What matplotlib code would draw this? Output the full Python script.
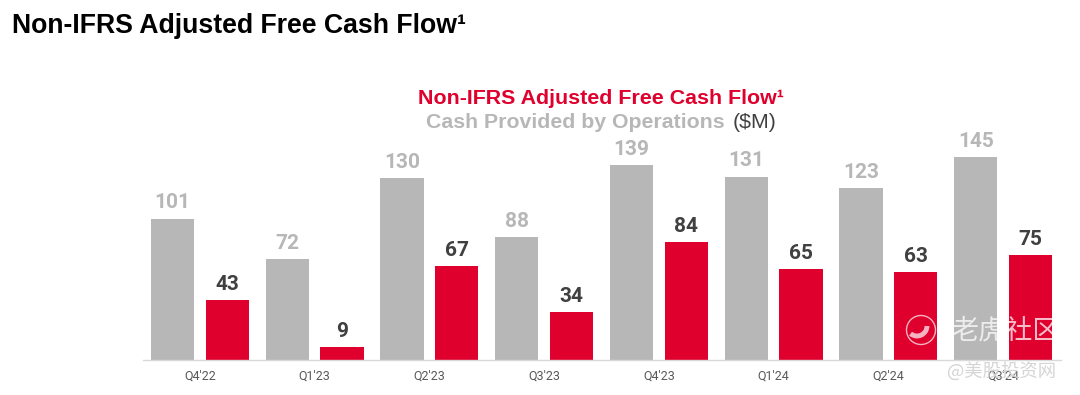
import matplotlib
matplotlib.use('Agg')
import matplotlib.pyplot as plt
from matplotlib.patches import Circle, Arc
import numpy as np

quarters = ["Q4'22", "Q1'23", "Q2'23", "Q3'23", "Q4'23", "Q1'24", "Q2'24", "Q3'24"]
cash_ops = [101, 72, 130, 88, 139, 131, 123, 145]
adj_fcf = [43, 9, 67, 34, 84, 65, 63, 75]

W, H = 1080, 395
GRAY = '#b7b7b7'
RED = '#e0002d'
DARK = '#404040'

fig = plt.figure(figsize=(W / 100, H / 100), dpi=100)
# axes box in pixels: left 142.5, right 1060.5, baseline at y=360
ax = fig.add_axes([142.5 / W, (H - 360) / H, 918 / W, 230 / H])

x = np.arange(len(quarters))
bar_w = 0.377
off = 0.2385
ax.bar(x - off, cash_ops, bar_w, color=GRAY)
ax.bar(x + off, adj_fcf, bar_w, color=RED)

for i in x:
    ax.annotate(str(cash_ops[i]), (i - off, cash_ops[i]), xytext=(0, 4.5), textcoords='offset points',
                ha='center', va='bottom', fontsize=15, fontweight='bold', family='Roboto', color=GRAY)
    ax.annotate(str(adj_fcf[i]), (i + off, adj_fcf[i]), xytext=(0, 4.5), textcoords='offset points',
                ha='center', va='bottom', fontsize=15, fontweight='bold', family='Roboto', color=DARK)

ax.set_xlim(-0.5, len(quarters) - 0.5)
ax.set_ylim(0, 164.3)
ax.set_xticks(x)
ax.set_xticklabels(quarters, fontsize=9, family='Roboto', color='#595959')
ax.tick_params(axis='x', length=0, pad=7.2)
ax.set_yticks([])
for s in ['top', 'left', 'right']:
    ax.spines[s].set_visible(False)
ax.spines['bottom'].set_color('#d9d9d9')
ax.spines['bottom'].set_linewidth(1)
ax.patch.set_alpha(0)


def px_text(px, py, s, **kw):
    return fig.text(px / W, 1 - py / H, s, **kw)


px_text(12, 26, 'Non-IFRS Adjusted Free Cash Flow¹', fontsize=19.2, fontweight='bold',
        family='Liberation Sans', color='black', va='center')
px_text(601, 98, 'Non-IFRS Adjusted Free Cash Flow¹', fontsize=15.4, fontweight='bold',
        family='Liberation Sans', color=RED, va='center', ha='center')
px_text(725, 122, 'Cash Provided by Operations', fontsize=15.3, fontweight='bold',
        family='Liberation Sans', color=GRAY, va='center', ha='right')
px_text(733, 122, '($M)', fontsize=15.4, family='Liberation Sans', color=DARK, va='center', ha='left')

# watermark
cjk = ['Noto Sans CJK SC', 'DejaVu Sans']
px_text(951, 331, '老虎社区', fontsize=19.5, family=cjk, color='white', alpha=0.75, va='center')
px_text(947, 371, '@美股投资网', fontsize=13.2, family=cjk, color='#d5d5d5', va='center')
overlay = fig.add_axes([0, 0, 1, 1])
overlay.set_xlim(0, W)
overlay.set_ylim(H, 0)
overlay.axis('off')
overlay.set_aspect('equal')
overlay.add_patch(Circle((921, 330), 14.5, fill=False, ec='white', lw=1, alpha=0.7))
overlay.add_patch(Arc((917, 326), 20, 20, theta1=0, theta2=130, ec='white', lw=3.5, alpha=0.7))

fig.savefig('out.png', dpi=100)
